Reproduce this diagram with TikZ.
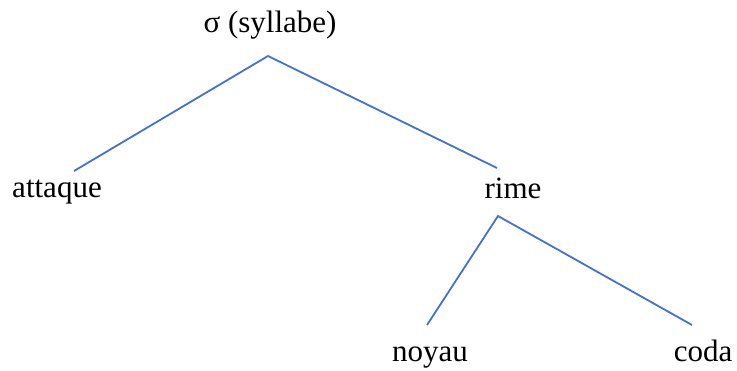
\documentclass[tikz,border=0pt]{standalone}
\usepackage{fontspec}
\setmainfont{Liberation Serif}
\usepackage{tikz}
\usetikzlibrary{positioning}
\definecolor{linkblue}{RGB}{68,114,196}
\tikzset{
  lbl/.style={anchor=base,inner sep=0pt,font=\fontsize{15.5}{18}\selectfont},
  branch/.style={draw=linkblue,line width=0.9pt}
}
\begin{document}
\begin{tikzpicture}[x=0.5pt,y=-0.5pt]
  \useasboundingbox (0,0) rectangle (737,370);
  \node[lbl] (syl) at (270,32) {σ (syllabe)};
  \node[lbl] (attaque) at (57,197) {attaque};
  \node[lbl] (rime) at (513,198) {rime};
  \node[lbl] (noyau) at (430,361) {noyau};
  \node[lbl] (coda) at (703,361) {coda};

  % branch ends
  \coordinate (syl-b) at (268,56);
  \coordinate (attaque-t) at (74,171);
  \coordinate (rime-t) at (497,168);
  \coordinate (rime-b) at (498,216);
  \coordinate (noyau-t) at (427,325);
  \coordinate (coda-t) at (692,325);

  \draw[branch] (attaque-t) -- (syl-b) -- (rime-t);
  \draw[branch] (noyau-t) -- (rime-b) -- (coda-t);
\end{tikzpicture}
\end{document}
